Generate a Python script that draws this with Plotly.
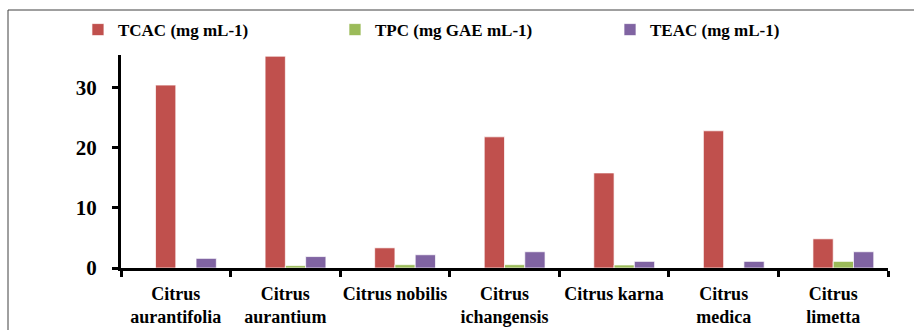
import plotly.graph_objects as go

categories = ["Citrus<br>aurantifolia", "Citrus<br>aurantium", "Citrus nobilis",
              "Citrus<br>ichangensis", "Citrus karna", "Citrus<br>medica", "Citrus<br>limetta"]
tcac = [30.4, 35.2, 3.35, 21.8, 15.8, 22.8, 4.85]
tpc = [0.0, 0.4, 0.55, 0.55, 0.5, 0.0, 1.1]
teac = [1.6, 1.9, 2.2, 2.7, 1.1, 1.1, 2.7]
series_names = ["TCAC (mg mL-1)", "TPC (mg GAE mL-1)", "TEAC (mg mL-1)"]
colors = ["#C0504D", "#9BBB59", "#8064A2"]
y_ticks = [0, 10, 20, 30]

FONT = "'Liberation Serif', 'Times New Roman', serif"
W = 0.185
offsets = [-W, 0.0, W]
legend_ids = ["legend2", "legend3", "legend4"]

fig = go.Figure()
for vals, name, col, off, lg in zip([tcac, tpc, teac], series_names, colors, offsets, legend_ids):
    fig.add_trace(go.Bar(
        x=categories, y=vals, name=name, width=W, offset=off, showlegend=True,
        marker=dict(color=col, line=dict(color="rgba(255,255,255,0.7)", width=1)),
        legend=lg,
    ))

leg_x = [0.0853, 0.3665, 0.6674]
legends = {}
for lg, lx in zip(legend_ids, leg_x):
    legends[lg] = dict(orientation="h", xref="container", yref="container",
                       x=lx, xanchor="left", yanchor="middle", y=0.909,
                       bgcolor="rgba(0,0,0,0)",
                       font=dict(family=FONT, size=17, color="black", weight="bold"))

fig.update_layout(
    width=914, height=330,
    margin=dict(l=121, r=26, t=55, b=62, autoexpand=False),
    paper_bgcolor="white", plot_bgcolor="white",
    barmode="overlay", showlegend=True,
    font=dict(family=FONT, size=17, color="black"),
    xaxis=dict(
        type="category", showline=True, linecolor="black", linewidth=3,
        ticks="outside", tickson="boundaries", ticklen=6, tickwidth=3, tickcolor="black",
        showgrid=False, tickangle=0, automargin=False,
        tickfont=dict(family=FONT, size=18, color="black", weight="bold"),
        ticklabelstandoff=7,
        range=[-0.5, 6.5],
    ),
    yaxis=dict(
        range=[0, 35.4], tickvals=y_ticks, showline=True, linecolor="black", linewidth=3,
        ticks="outside", ticklen=6, tickwidth=3, tickcolor="black",
        showgrid=False, zeroline=False, automargin=False,
        tickfont=dict(family=FONT, size=21, color="black", weight="bold"),
        ticklabelstandoff=11,
    ),
    shapes=[dict(type="rect", xref="paper", yref="paper",
                 x0=(8 - 121) / 767, x1=(930 - 121) / 767,
                 y0=(268 - 345) / 213, y1=(268 - 10) / 213,
                 line=dict(color="#404040", width=1), fillcolor="rgba(0,0,0,0)", layer="below")],
    **legends,
)

fig.write_html("out.html", config={"displayModeBar": False},
               post_script="document.body.style.margin='0';")
